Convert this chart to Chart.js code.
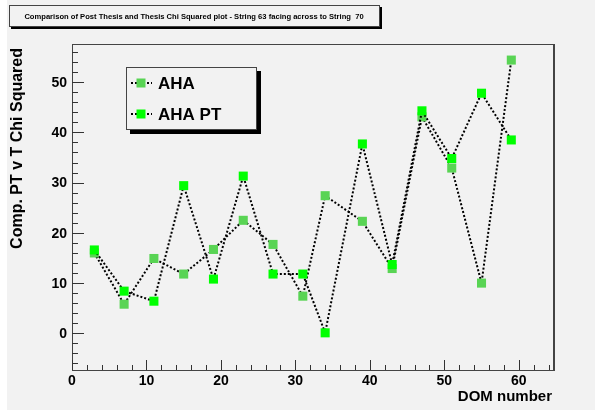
<!DOCTYPE html>
<html>
<head>
<meta charset="utf-8">
<script src="https://cdn.jsdelivr.net/npm/chart.js@4.4.1/dist/chart.umd.min.js"></script>
<style>
  html, body { margin: 0; padding: 0; background: #ffffff; }
  #wrap { width: 595px; height: 410px; }
</style>
</head>
<body>
<div id="wrap"><canvas id="chiChart" width="595" height="410"></canvas></div>
<script>
// DOM numbers along the string
const domNumbers = [3, 7, 11, 15, 19, 23, 27, 31, 34, 39, 43, 47, 51, 55, 59];
// chi squared, thesis run (AHA)
const ahaValues = [16.0, 5.8, 14.9, 11.8, 16.7, 22.5, 17.7, 7.4, 27.4, 22.3, 12.9, 43.1, 32.9, 10.0, 54.4];
// chi squared, post thesis run (AHA PT)
const ahaPtValues = [16.6, 8.4, 6.4, 29.4, 10.8, 31.3, 11.8, 11.8, 0.1, 37.7, 13.7, 44.3, 34.8, 47.8, 38.5];

const xTickLabels = [0, 10, 20, 30, 40, 50, 60];
const yTickLabels = [0, 10, 20, 30, 40, 50];
const seriesNames = ["AHA", "AHA PT"];

const titleText = "Comparison of Post Thesis and Thesis Chi Squared plot - String 63 facing across to String  70";
const xTitle = "DOM number";
const yTitle = "Comp. PT v T Chi Squared";

const FONT = "'Liberation Sans', Arial, Helvetica, sans-serif";
const AHA_GREEN = "#59d454";
const PT_GREEN = "#00ff00";
const PAD_GRAY = "#f2f2f2";

function toPoints(xs, ys) {
  return xs.map((x, i) => ({ x: x, y: ys[i] }));
}

// square marker like ROOT style 21
function drawMarker(ctx, x, y, color) {
  ctx.fillStyle = color;
  ctx.fillRect(x - 4.5, y - 4.5, 9, 9);
}

function dottedLine(ctx, x1, y1, x2, y2) {
  ctx.save();
  ctx.strokeStyle = "#000";
  ctx.lineWidth = 2;
  ctx.setLineDash([2, 2]);
  ctx.beginPath();
  ctx.moveTo(x1, y1);
  ctx.lineTo(x2, y2);
  ctx.stroke();
  ctx.restore();
}

const rootStyle = {
  id: "rootStyle",
  beforeDraw(chart) {
    const ctx = chart.ctx;
    ctx.save();
    ctx.fillStyle = "#ffffff";
    ctx.fillRect(0, 0, chart.width, chart.height);
    ctx.fillStyle = PAD_GRAY;
    ctx.fillRect(7, 0, chart.width - 7, chart.height);
    ctx.restore();
  },
  afterDraw(chart) {
    const ctx = chart.ctx;
    const area = chart.chartArea;
    const xs = chart.scales.x;
    const ys = chart.scales.y;

    ctx.save();
    // frame
    ctx.strokeStyle = "#444";
    ctx.lineWidth = 1;
    ctx.strokeRect(area.left + 0.5, area.top + 0.5, area.right - area.left, area.bottom - area.top);
    ctx.beginPath();
    ctx.moveTo(area.right + 1.5, area.top);
    ctx.lineTo(area.right + 1.5, area.bottom + 1);
    ctx.stroke();

    // ticks inside the frame
    ctx.strokeStyle = "#333";
    ctx.beginPath();
    for (let v = 0; v <= xs.max; v += 2) {
      const px = Math.round(xs.getPixelForValue(v)) + 0.5;
      const len = v % 10 === 0 ? 10 : 5;
      ctx.moveTo(px, area.bottom);
      ctx.lineTo(px, area.bottom - len);
    }
    for (let v = -6; v <= ys.max; v += 2) {
      const py = Math.round(ys.getPixelForValue(v)) + 0.5;
      const len = v % 10 === 0 ? 12 : 6;
      ctx.moveTo(area.left, py);
      ctx.lineTo(area.left + len, py);
    }
    ctx.stroke();

    // tick labels
    ctx.fillStyle = "#000";
    ctx.font = `bold 14px ${FONT}`;
    ctx.textAlign = "center";
    ctx.textBaseline = "middle";
    xTickLabels.forEach(v => {
      ctx.fillText(String(v), xs.getPixelForValue(v), area.bottom + 11);
    });
    ctx.textAlign = "right";
    yTickLabels.forEach(v => {
      ctx.fillText(String(v), area.left - 5, ys.getPixelForValue(v) + 1);
    });

    // axis titles
    ctx.font = `bold 15px ${FONT}`;
    ctx.textAlign = "right";
    ctx.fillText(xTitle, 552, 397);
    ctx.save();
    ctx.translate(18, 48);
    ctx.rotate(-Math.PI / 2);
    ctx.font = `bold 16px ${FONT}`;
    ctx.textAlign = "right";
    ctx.fillText(yTitle, 0, 0);
    ctx.restore();

    // title box
    ctx.fillStyle = "#000";
    ctx.fillRect(11, 7, 371, 22);
    ctx.fillStyle = PAD_GRAY;
    ctx.fillRect(9, 5, 371, 22);
    ctx.strokeStyle = "#444";
    ctx.strokeRect(9.5, 5.5, 370, 21);
    ctx.fillStyle = "#000";
    ctx.font = `bold 7.6px ${FONT}`;
    ctx.textAlign = "center";
    ctx.fillText(titleText, 194, 16.5);

    // legend
    const lx = 126, ly = 67, lw = 131, lh = 63;
    ctx.fillStyle = "#000";
    ctx.fillRect(lx + 4, ly + 4, lw, lh);
    ctx.fillStyle = PAD_GRAY;
    ctx.fillRect(lx, ly, lw, lh);
    ctx.strokeStyle = "#444";
    ctx.strokeRect(lx + 0.5, ly + 0.5, lw - 1, lh - 1);
    const rows = [
      { name: seriesNames[0], color: AHA_GREEN, y: 83 },
      { name: seriesNames[1], color: PT_GREEN, y: 114 }
    ];
    rows.forEach(r => {
      dottedLine(ctx, 131, r.y, 152, r.y);
      drawMarker(ctx, 141, r.y, r.color);
      ctx.fillStyle = "#000";
      ctx.font = `bold 17px ${FONT}`;
      ctx.textAlign = "left";
      ctx.textBaseline = "middle";
      ctx.fillText(r.name, 158, r.y + 1);
    });
    ctx.restore();
  }
};

const lineStyle = {
  borderColor: "#000",
  borderWidth: 2,
  borderDash: [2, 2],
  tension: 0,
  fill: false,
  pointStyle: "rect",
  pointRadius: 6.4,
  pointHoverRadius: 6.4,
  pointBorderWidth: 0
};

new Chart(document.getElementById("chiChart").getContext("2d"), {
  type: "line",
  data: {
    datasets: [
      {
        ...lineStyle,
        label: seriesNames[0],
        data: toPoints(domNumbers, ahaValues),
        pointBackgroundColor: AHA_GREEN,
        pointBorderColor: AHA_GREEN,
        order: 1
      },
      {
        ...lineStyle,
        label: seriesNames[1],
        data: toPoints(domNumbers, ahaPtValues),
        pointBackgroundColor: PT_GREEN,
        pointBorderColor: PT_GREEN,
        order: 0
      }
    ]
  },
  options: {
    responsive: false,
    animation: false,
    devicePixelRatio: 1,
    layout: { padding: { left: 72, right: 42, top: 44, bottom: 40 } },
    plugins: {
      legend: { display: false },
      tooltip: { enabled: false },
      title: { display: false }
    },
    scales: {
      x: { type: "linear", min: 0, max: 64.6, display: false },
      y: { type: "linear", min: -7.3, max: 57.6, display: false }
    }
  },
  plugins: [rootStyle]
});
</script>
</body>
</html>
